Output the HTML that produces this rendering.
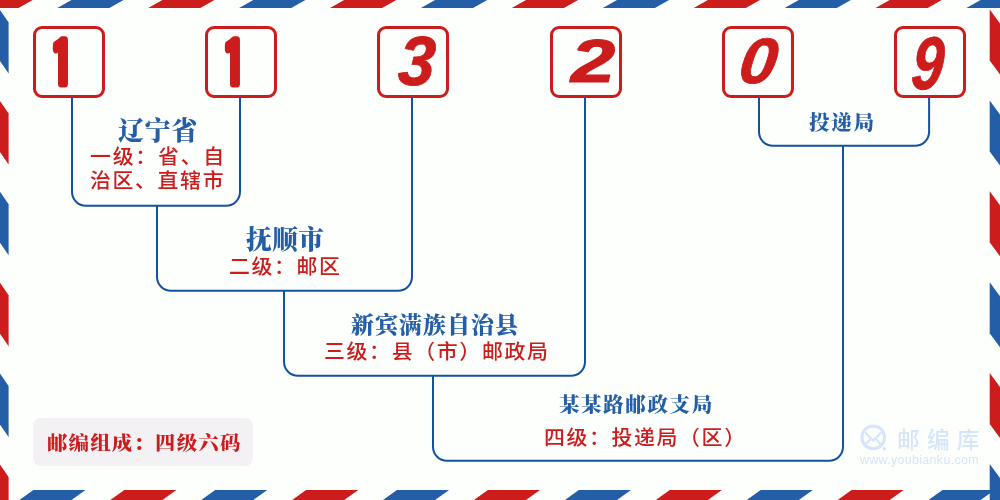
<!DOCTYPE html>
<html lang="zh-CN">
<head>
<meta charset="utf-8">
<title>113209 邮编组成</title>
<style>
html,body{margin:0;padding:0}
body{width:1000px;height:500px;overflow:hidden;position:relative;background:#fdfffd;font-family:"Liberation Sans","Noto Sans CJK SC",sans-serif}
svg{position:absolute;left:0;top:0}
.t{position:absolute;will-change:transform;white-space:nowrap;line-height:1;margin:0;padding:0}
.h{font-family:"Liberation Serif","Noto Serif CJK SC",serif;font-weight:900;color:#245ea6}
.s{font-family:"Liberation Sans","Noto Sans CJK SC",sans-serif;font-weight:500;color:#cc1c1c}
.tag{position:absolute;left:33px;top:418px;width:220px;height:48px;border-radius:8px;background:#f3f1f4}
.tagt{font-family:"Liberation Serif","Noto Serif CJK SC",serif;font-weight:900;color:#cc1c1c}
.wm{color:#d5e5fa}
</style>
</head>
<body>
<svg width="1000" height="500" viewBox="0 0 1000 500">
<g>
<polygon fill="#cc1c1c" points="-33.6,7.9 18.5,7.9 32.7,0.0 -19.4,0.0"/>
<polygon fill="#245ea6" points="57.3,7.9 109.4,7.9 123.6,0.0 71.5,0.0"/>
<polygon fill="#cc1c1c" points="148.2,7.9 200.3,7.9 214.5,0.0 162.4,0.0"/>
<polygon fill="#245ea6" points="239.1,7.9 291.2,7.9 305.4,0.0 253.3,0.0"/>
<polygon fill="#cc1c1c" points="330.0,7.9 382.1,7.9 396.3,0.0 344.2,0.0"/>
<polygon fill="#245ea6" points="420.9,7.9 473.0,7.9 487.2,0.0 435.1,0.0"/>
<polygon fill="#cc1c1c" points="511.8,7.9 563.9,7.9 578.1,0.0 526.0,0.0"/>
<polygon fill="#245ea6" points="602.8,7.9 654.9,7.9 669.1,0.0 617.0,0.0"/>
<polygon fill="#cc1c1c" points="693.7,7.9 745.8,7.9 760.0,0.0 707.9,0.0"/>
<polygon fill="#245ea6" points="784.6,7.9 836.7,7.9 850.9,0.0 798.8,0.0"/>
<polygon fill="#cc1c1c" points="875.5,7.9 927.6,7.9 941.8,0.0 889.7,0.0"/>
<polygon fill="#245ea6" points="966.4,7.9 1018.5,7.9 1032.7,0.0 980.6,0.0"/>
<polygon fill="#cc1c1c" points="1057.3,7.9 1109.4,7.9 1123.6,0.0 1071.5,0.0"/>
<polygon fill="#245ea6" points="0.0,10.0 8.6,22.5 8.6,73.5 0.0,61.0"/>
<polygon fill="#cc1c1c" points="0.0,100.9 8.6,113.4 8.6,164.4 0.0,151.9"/>
<polygon fill="#245ea6" points="0.0,191.8 8.6,204.3 8.6,255.3 0.0,242.8"/>
<polygon fill="#cc1c1c" points="0.0,282.7 8.6,295.2 8.6,346.2 0.0,333.7"/>
<polygon fill="#245ea6" points="0.0,373.6 8.6,386.1 8.6,437.1 0.0,424.6"/>
<polygon fill="#cc1c1c" points="0.0,464.5 8.6,477.0 8.6,528.0 0.0,515.5"/>
<polygon fill="#cc1c1c" points="989.7,9.5 1000.0,23.5 1000.0,74.5 989.7,60.5"/>
<polygon fill="#245ea6" points="989.7,100.4 1000.0,114.4 1000.0,165.4 989.7,151.4"/>
<polygon fill="#cc1c1c" points="989.7,191.3 1000.0,205.3 1000.0,256.3 989.7,242.3"/>
<polygon fill="#245ea6" points="989.7,282.2 1000.0,296.2 1000.0,347.2 989.7,333.2"/>
<polygon fill="#cc1c1c" points="989.7,373.1 1000.0,387.1 1000.0,438.1 989.7,424.1"/>
<polygon fill="#245ea6" points="989.7,464.0 1000.0,478.0 1000.0,529.0 989.7,515.0"/>
<polygon fill="#245ea6" points="33.4,490.0 85.5,490.0 71.5,500.0 19.4,500.0"/>
<polygon fill="#cc1c1c" points="124.3,490.0 176.4,490.0 162.4,500.0 110.3,500.0"/>
<polygon fill="#245ea6" points="215.2,490.0 267.3,490.0 253.3,500.0 201.2,500.0"/>
<polygon fill="#cc1c1c" points="306.1,490.0 358.2,490.0 344.2,500.0 292.1,500.0"/>
<polygon fill="#245ea6" points="397.0,490.0 449.1,490.0 435.1,500.0 383.0,500.0"/>
<polygon fill="#cc1c1c" points="487.9,490.0 540.0,490.0 526.0,500.0 473.9,500.0"/>
<polygon fill="#245ea6" points="578.9,490.0 631.0,490.0 617.0,500.0 564.9,500.0"/>
<polygon fill="#cc1c1c" points="669.8,490.0 721.9,490.0 707.9,500.0 655.8,500.0"/>
<polygon fill="#245ea6" points="760.7,490.0 812.8,490.0 798.8,500.0 746.7,500.0"/>
<polygon fill="#cc1c1c" points="851.6,490.0 903.7,490.0 889.7,500.0 837.6,500.0"/>
<polygon fill="#245ea6" points="942.5,490.0 994.6,490.0 980.6,500.0 928.5,500.0"/>
<polygon fill="#cc1c1c" points="1033.4,490.0 1085.5,490.0 1071.5,500.0 1019.4,500.0"/>
</g>
<path d="M72,97 V191.8 A14,14 0 0 0 86,205.8 H226 A14,14 0 0 0 240,191.8 V97 M157,205.8 V276.8 A14,14 0 0 0 171,290.8 H398 A14,14 0 0 0 412,276.8 V97 M284,290.8 V361.8 A14,14 0 0 0 298,375.8 H571 A14,14 0 0 0 585,361.8 V97 M433,375.8 V446.8 A14,14 0 0 0 447,460.8 H829 A14,14 0 0 0 843,446.8 V145.8 M759,97 V131.8 A14,14 0 0 0 773,145.8 H915.1 A14,14 0 0 0 929.1,131.8 V97" fill="none" stroke="#14519f" stroke-width="2"/>
<g fill="#fdfffd" stroke="#cc1c1c" stroke-width="3"><rect x="34.5" y="27.5" width="69" height="69" rx="7.5" ry="7.5"/><rect x="206.5" y="27.5" width="69" height="69" rx="7.5" ry="7.5"/><rect x="378.5" y="27.5" width="69" height="69" rx="7.5" ry="7.5"/><rect x="551.5" y="27.5" width="69" height="69" rx="7.5" ry="7.5"/><rect x="723.5" y="27.5" width="69" height="69" rx="7.5" ry="7.5"/><rect x="895.5" y="27.5" width="69" height="69" rx="7.5" ry="7.5"/></g>
<g class="dg" fill="#cc1c1c" stroke="#cc1c1c" stroke-linejoin="round"><text transform="translate(50.00,87.00) scale(0.791,1)" font-size="62.20" stroke-width="7.46" style="font-family:'IPAGothic',sans-serif">1</text><text transform="translate(222.00,87.00) scale(0.791,1)" font-size="62.20" stroke-width="7.46" style="font-family:'IPAGothic',sans-serif">1</text><text transform="translate(397.00,84.50) skewX(-4) scale(0.952,1)" font-size="69.46" stroke-width="0.83" style="font-family:'Liberation Sans',sans-serif;font-weight:700;font-style:italic">3</text><text transform="translate(571.00,82.00) scale(1.291,1)" font-size="61.44" stroke-width="1.23" style="font-family:'Liberation Sans',sans-serif;font-weight:700;font-style:italic">2</text><text transform="translate(737.00,82.80) skewX(-8) scale(1.048,1)" font-size="64.18" stroke-width="0.77" style="font-family:'Liberation Sans',sans-serif;font-weight:700;font-style:italic">0</text><text transform="translate(910.00,88.70) skewX(-5) scale(0.766,1)" font-size="74.73" stroke-width="0.90" style="font-family:'Liberation Sans',sans-serif;font-weight:700;font-style:italic">9</text></g>
<g fill="none" stroke="#d5e5fa" stroke-width="3" stroke-linecap="round" stroke-linejoin="round">
<circle cx="873.2" cy="437.4" r="11.3"/>
<path d="M865.6,433 L873.2,440.8 L880.6,433" stroke-width="2.3"/>
<path d="M865,445 L869.8,440 M881.4,445 L876.6,440" stroke-width="2.3"/>
<circle cx="884.4" cy="448.7" r="1.7" fill="#d5e5fa" stroke="none"/>
</g>
</svg>

<div class="tag"></div>
<div class="t h" id="h1" style="left:118.00px;top:118.56px;font-size:25.70px;letter-spacing:1.10px">辽宁省</div>
<div class="t s" id="s1a" style="left:90.00px;top:146.80px;font-size:20.30px;letter-spacing:1.72px;transform:scaleX(1.03);transform-origin:0 0">一级：省、自</div>
<div class="t s" id="s1b" style="left:89.52px;top:171.10px;font-size:20.30px;letter-spacing:1.59px;transform:scaleX(1.03);transform-origin:0 0">治区、直辖市</div>
<div class="t h" id="h2" style="left:246.48px;top:228.48px;font-size:25.70px;letter-spacing:0.46px">抚顺市</div>
<div class="t s" id="s2" style="left:228.52px;top:257.40px;font-size:20.30px;letter-spacing:1.58px;transform:scaleX(1.03);transform-origin:0 0">二级：邮区</div>
<div class="t h" id="h3" style="left:351.00px;top:314.00px;font-size:23.00px;letter-spacing:1.02px">新宾满族自治县</div>
<div class="t s" id="s3" style="left:323.52px;top:342.44px;font-size:20.30px;letter-spacing:1.62px;transform:scaleX(1.03);transform-origin:0 0">三级：县（市）邮政局</div>
<div class="t h" id="h4" style="left:558.80px;top:394.80px;font-size:20.50px;letter-spacing:1.62px">某某路邮政支局</div>
<div class="t s" id="s4" style="left:544.32px;top:428.36px;font-size:20.30px;letter-spacing:1.58px;transform:scaleX(1.03);transform-origin:0 0">四级：投递局（区）</div>
<div class="t h" id="h5" style="left:809.00px;top:112.80px;font-size:20.50px;letter-spacing:1.70px">投递局</div>
<div class="t tagt" id="tg" style="left:47.36px;top:433.68px;font-size:19.80px;letter-spacing:1.21px;transform:scaleX(1.03);transform-origin:0 0">邮编组成：四级六码</div>
<div class="t wm" id="wm1" style="left:896.52px;top:429.76px;font-size:22.60px;letter-spacing:7.34px;font-weight:500">邮编库</div>
<div class="t wm" id="wm2" style="left:860.00px;top:453.80px;font-size:12.40px;letter-spacing:0.35px">www.youbianku.com</div>

</body>
</html>
